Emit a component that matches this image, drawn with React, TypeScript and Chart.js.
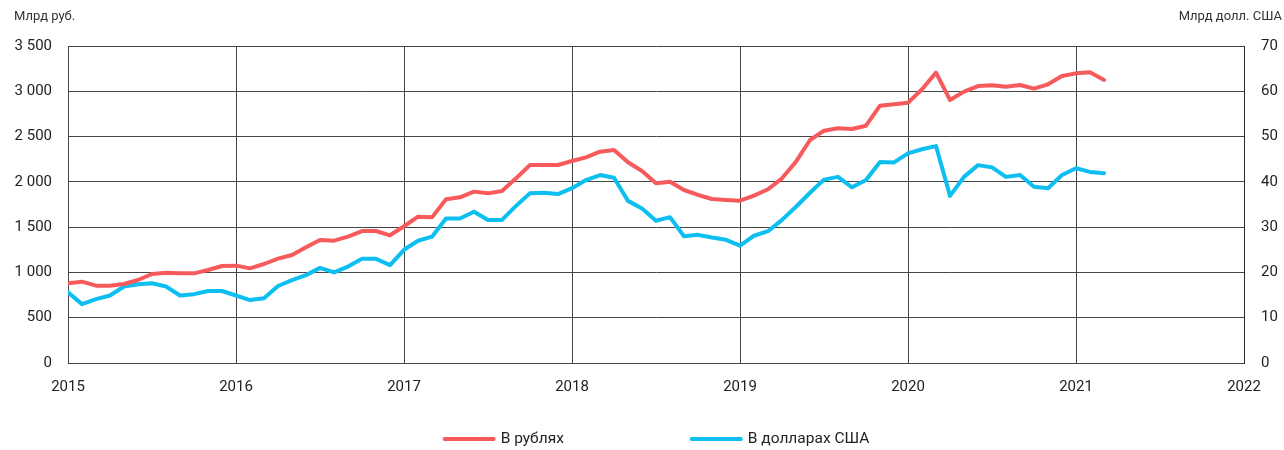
import React, { useEffect, useRef } from "react";
import { Chart, registerables } from "chart.js";

Chart.register(...registerables);

const startYear = 2015;
const endYear = 2022;
const leftUnit = "Млрд руб.";
const rightUnit = "Млрд долл. США";
const rubLabel = "В рублях";
const usdLabel = "В долларах США";

// Monthly values, Jan 2015 – Mar 2021
const rubValues = [
  880, 898, 854, 854, 872, 916, 983, 997, 990, 990, 1027, 1071,
  1075, 1045, 1093, 1152, 1192, 1277, 1358, 1351, 1395, 1457, 1457, 1410,
  1510, 1616, 1608, 1807, 1829, 1892, 1873, 1899, 2039, 2186, 2186, 2186,
  2230, 2271, 2333, 2352, 2216, 2120, 1984, 2002, 1910, 1855, 1811, 1800,
  1792, 1848, 1918, 2039, 2223, 2462, 2565, 2591, 2584, 2620, 2841, 2856,
  2874, 3022, 3206, 2904, 2996, 3058, 3066, 3051, 3070, 3029, 3077, 3169,
  3198, 3209, 3125,
];

const usdValues = [
  15.6, 13.0, 14.1, 14.9, 16.9, 17.4, 17.6, 16.9, 14.9, 15.2, 15.9, 15.9,
  14.9, 13.9, 14.3, 17.0, 18.3, 19.4, 21.0, 20.0, 21.3, 23.0, 23.0, 21.6,
  25.0, 27.0, 27.9, 31.9, 31.9, 33.4, 31.6, 31.6, 34.7, 37.5, 37.6, 37.3,
  38.6, 40.4, 41.5, 40.9, 35.8, 34.1, 31.4, 32.2, 28.0, 28.3, 27.7, 27.2,
  25.9, 28.1, 29.1, 31.6, 34.5, 37.6, 40.5, 41.1, 38.8, 40.4, 44.4, 44.3,
  46.3, 47.2, 47.9, 36.9, 41.1, 43.7, 43.2, 41.1, 41.5, 38.9, 38.6, 41.5,
  43.0, 42.2, 41.9,
];

const leftMax = 3500;
const leftStep = 500;
const rightMax = 70;
const rightStep = 10;

const RED = "#F65A5B";
const BLUE = "#0DBEF0";
const GRID = "#454545";
const TEXT = "#222222";
const FONT = "Roboto";

function fmtThousands(v: number): string {
  if (v >= 1000) {
    const th = Math.floor(v / 1000);
    const rest = String(v % 1000).padStart(3, "0");
    return `${th} ${rest}`;
  }
  return String(v);
}

const extrasPlugin = {
  id: "extras",
  afterDraw(chart: any) {
    const ctx = chart.ctx as CanvasRenderingContext2D;
    const W = chart.width;
    const area = chart.chartArea;
    ctx.save();
    // unit labels
    ctx.font = `13px ${FONT}`;
    ctx.fillStyle = "#333333";
    ctx.textBaseline = "middle";
    ctx.textAlign = "left";
    ctx.fillText(leftUnit, 14, 17);
    ctx.textAlign = "right";
    ctx.fillText(rightUnit, W - 2, 17);

    // legend, centred under the plot area
    const lineLen = 53;
    const textGap = 5;
    const itemGap = 126;
    const y = 439;
    ctx.font = `15.5px ${FONT}`;
    const ds = chart.data.datasets;
    const widths = ds.map((d: any) => lineLen + textGap + ctx.measureText(d.label).width);
    const total = widths.reduce((a: number, b: number) => a + b, 0) + itemGap * (ds.length - 1);
    let x = (area.left + area.right) / 2 - total / 2;
    ds.forEach((d: any, i: number) => {
      ctx.strokeStyle = d.borderColor;
      ctx.lineWidth = 4;
      ctx.lineCap = "round";
      ctx.beginPath();
      ctx.moveTo(x + 2, y);
      ctx.lineTo(x + lineLen - 2, y);
      ctx.stroke();
      ctx.fillStyle = TEXT;
      ctx.textAlign = "left";
      ctx.textBaseline = "middle";
      ctx.fillText(d.label, x + lineLen + textGap, y);
      x += widths[i] + itemGap;
    });
    ctx.restore();
  },
};

export default function App() {
  const ref = useRef<HTMLCanvasElement>(null);

  useEffect(() => {
    Chart.defaults.font.family = FONT;
    const chart = new Chart(ref.current as HTMLCanvasElement, {
      type: "line",
      data: {
        datasets: [
          {
            label: rubLabel,
            data: rubValues.map((v, i) => ({ x: i, y: v })),
            borderColor: RED,
            backgroundColor: RED,
            borderWidth: 4,
            pointRadius: 0,
            tension: 0,
            yAxisID: "y",
            borderCapStyle: "round",
            borderJoinStyle: "round",
          },
          {
            label: usdLabel,
            data: usdValues.map((v, i) => ({ x: i, y: v })),
            borderColor: BLUE,
            backgroundColor: BLUE,
            borderWidth: 4,
            pointRadius: 0,
            tension: 0,
            yAxisID: "y1",
            borderCapStyle: "round",
            borderJoinStyle: "round",
          },
        ],
      },
      options: {
        animation: false,
        responsive: true,
        maintainAspectRatio: false,
        layout: { padding: { top: 46, left: 0, right: 0, bottom: 0 } },
        plugins: {
          legend: { display: false },
          tooltip: { enabled: false },
        },
        scales: {
          x: {
            type: "linear",
            min: 0,
            max: (endYear - startYear) * 12,
            ticks: {
              stepSize: 12,
              callback: (v: any) => String(startYear + Number(v) / 12),
              color: TEXT,
              font: { size: 15, family: FONT },
              padding: 15,
              maxRotation: 0,
            },
            grid: { color: GRID, lineWidth: 1, drawTicks: false },
            border: { color: GRID, width: 1 },
            afterFit: (s: any) => {
              s.height = 87;
            },
          },
          y: {
            position: "left",
            min: 0,
            max: leftMax,
            ticks: {
              stepSize: leftStep,
              callback: (v: any) => fmtThousands(Number(v)),
              color: TEXT,
              font: { size: 15, family: FONT },
              padding: 16,
            },
            grid: { color: GRID, lineWidth: 1, drawTicks: false },
            border: { color: GRID, width: 1 },
            afterFit: (s: any) => {
              s.width = 68;
            },
          },
          y1: {
            position: "right",
            min: 0,
            max: rightMax,
            ticks: {
              stepSize: rightStep,
              color: TEXT,
              font: { size: 15, family: FONT },
              padding: 17,
            },
            grid: { drawOnChartArea: false, drawTicks: false },
            border: { color: "#2a2a2a", width: 1 },
            afterFit: (s: any) => {
              s.width = 40;
            },
          },
        },
      } as any,
      plugins: [extrasPlugin],
    });
    return () => chart.destroy();
  }, []);

  return (
    <div
      style={{
        position: "fixed",
        left: 0,
        top: 0,
        width: 1284,
        height: 450,
        background: "#ffffff",
      }}
    >
      <canvas ref={ref} />
    </div>
  );
}
